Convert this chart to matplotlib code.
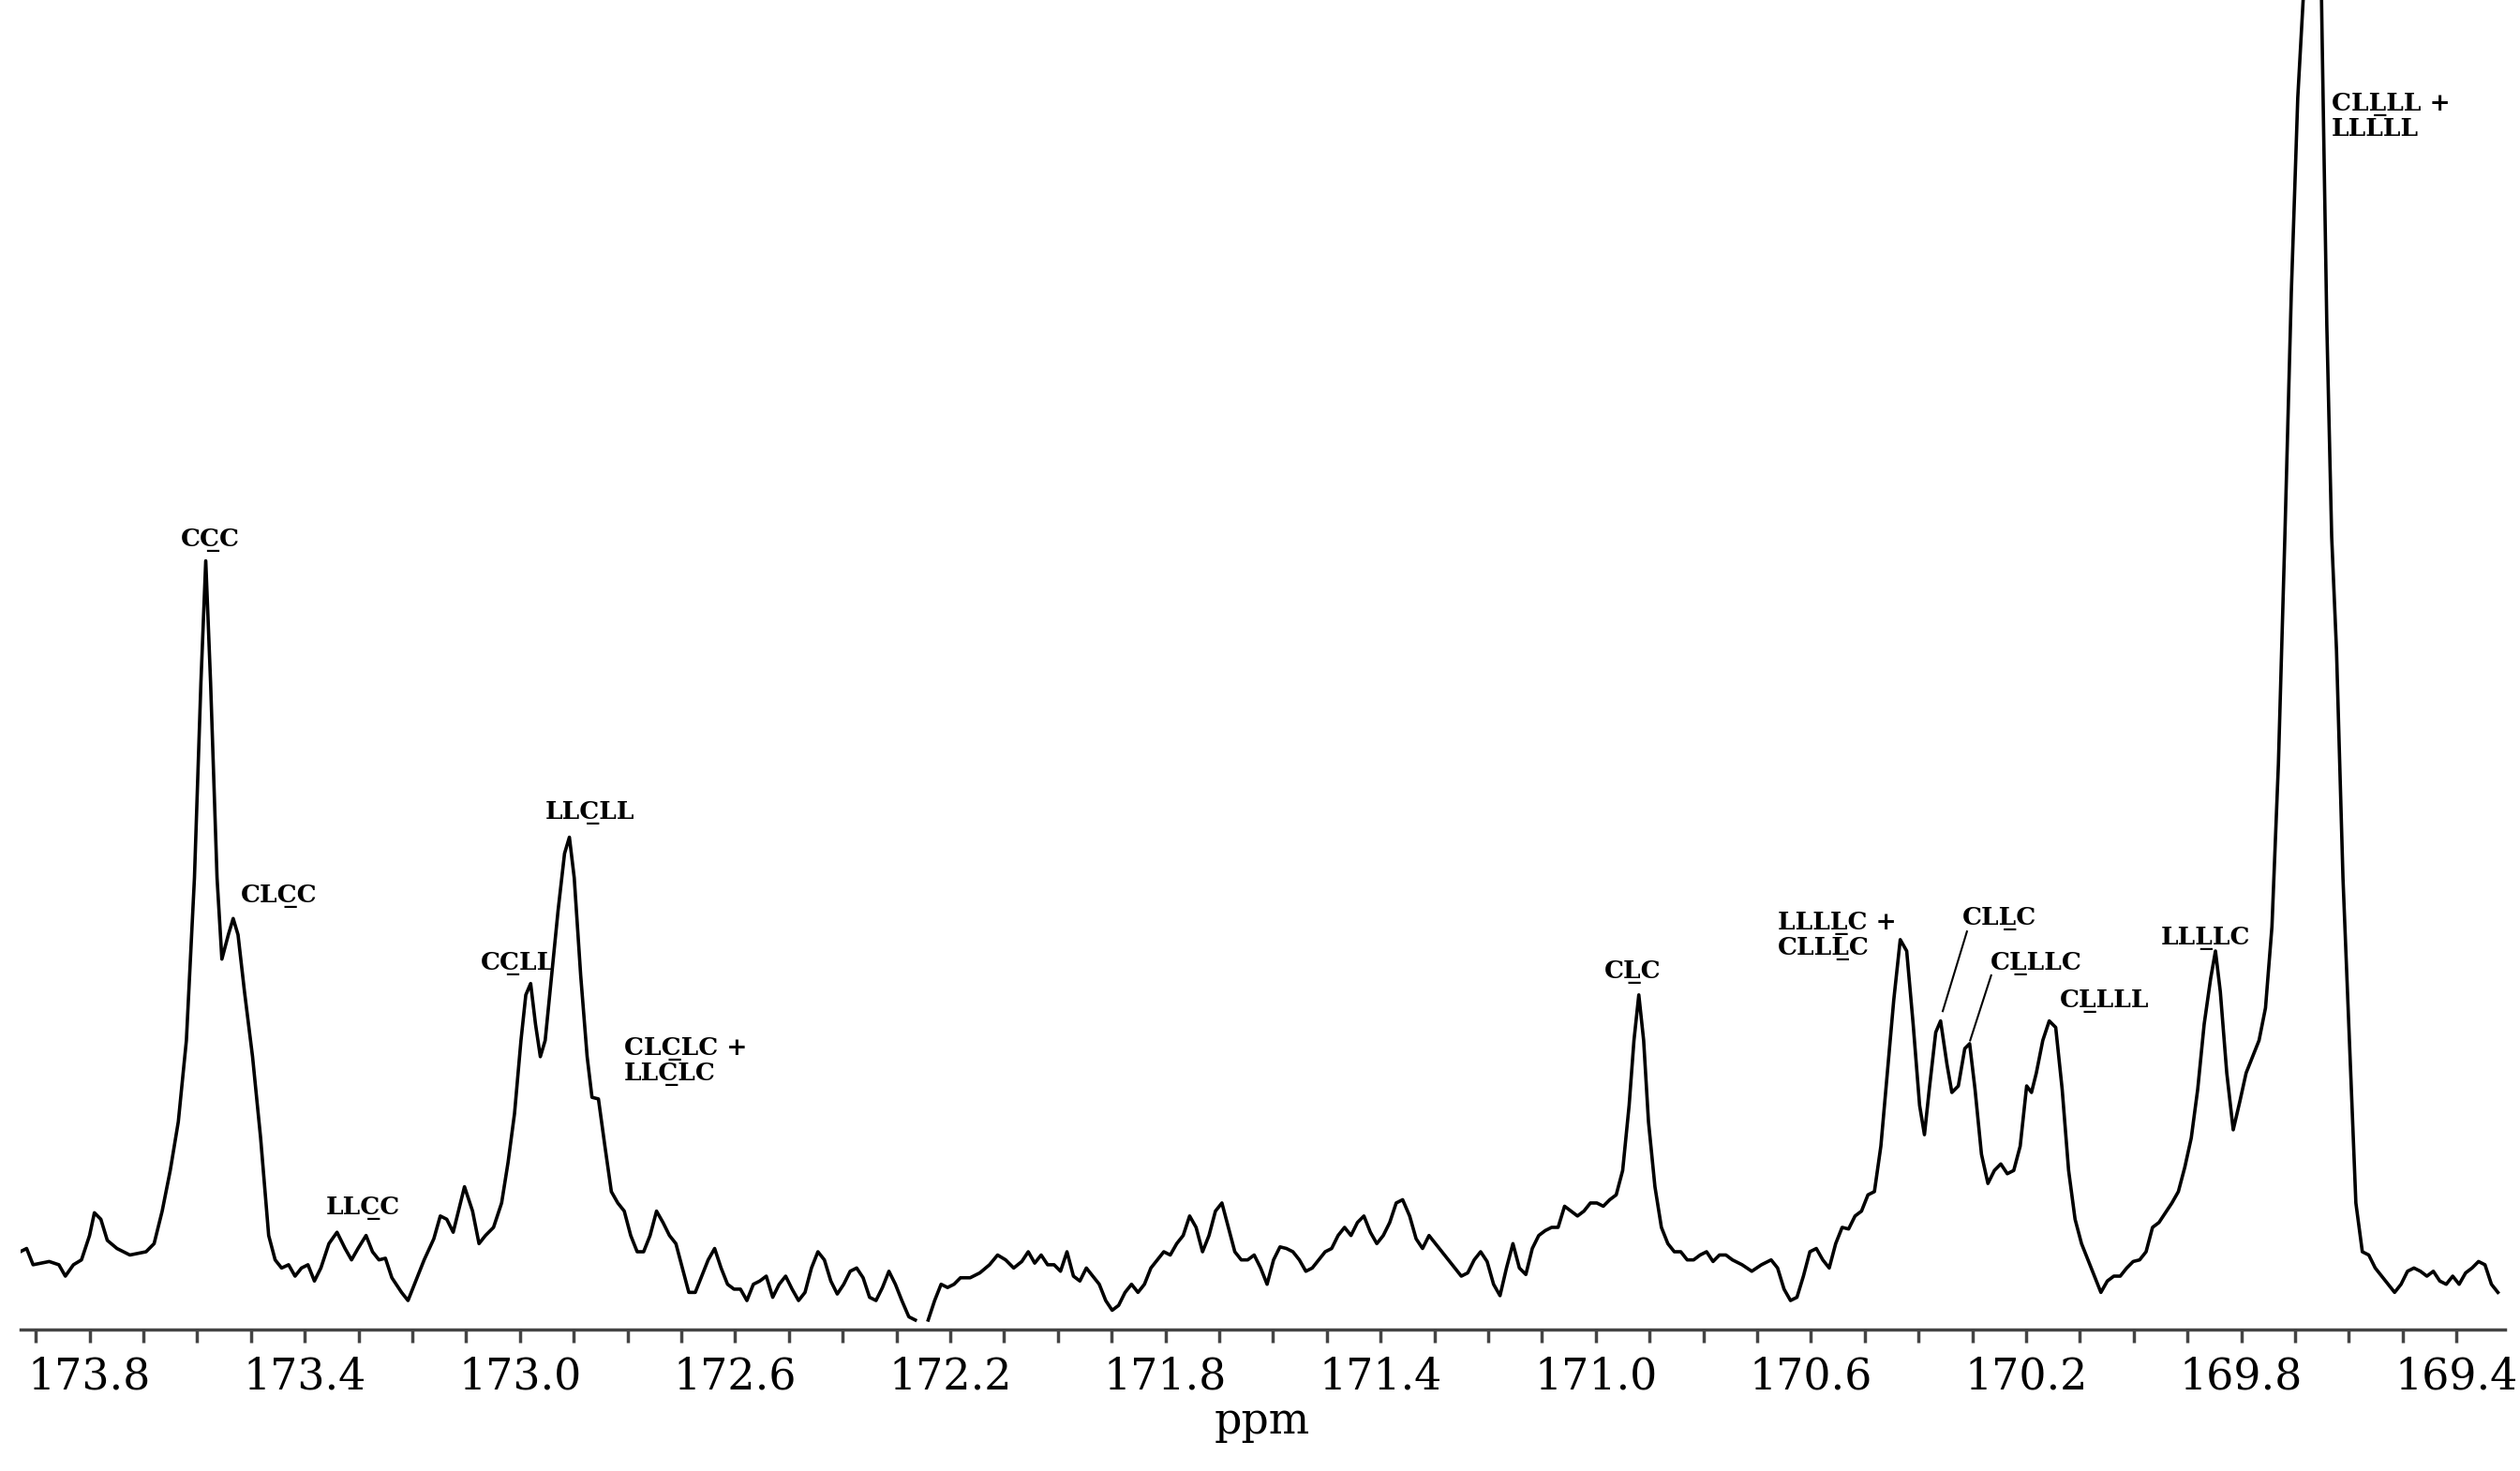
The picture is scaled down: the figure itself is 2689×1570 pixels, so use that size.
import numpy as np
import matplotlib
matplotlib.use("Agg")
import matplotlib.pyplot as plt

# 13C NMR carbonyl region (ppm, arbitrary intensity)
ppm_a = [173.929, 173.917, 173.905, 173.875, 173.857, 173.845, 173.830, 173.815, 173.800, 173.791,
         173.779, 173.767, 173.749, 173.725, 173.695, 173.680, 173.665, 173.650, 173.635, 173.620,
         173.605, 173.593, 173.584, 173.575, 173.563, 173.554, 173.542, 173.533, 173.524, 173.512,
         173.497, 173.482, 173.467, 173.455, 173.443, 173.430, 173.418, 173.406, 173.394, 173.382,
         173.370, 173.355, 173.340, 173.325, 173.313, 173.301, 173.286, 173.274, 173.262, 173.250,
         173.238, 173.220, 173.208, 173.196, 173.178, 173.160, 173.148, 173.136, 173.124, 173.115,
         173.103, 173.088, 173.076, 173.064, 173.049, 173.034, 173.022, 173.010, 172.998, 172.989,
         172.980, 172.971, 172.962, 172.953, 172.941, 172.929, 172.917, 172.908, 172.899, 172.887,
         172.875, 172.866, 172.854, 172.842, 172.830, 172.818, 172.806, 172.794, 172.782, 172.770,
         172.758, 172.746, 172.734, 172.722, 172.710, 172.698, 172.686, 172.674, 172.662, 172.650,
         172.638, 172.626, 172.614, 172.602, 172.590, 172.578, 172.566, 172.554, 172.542, 172.530,
         172.518, 172.506, 172.494, 172.482, 172.470, 172.458, 172.446, 172.434, 172.422, 172.410,
         172.398, 172.386, 172.374, 172.362, 172.350, 172.338, 172.326, 172.314, 172.302, 172.290,
         172.277, 172.265]
int_a = [48, 50, 40, 42, 40, 33, 40, 43, 58, 72,
         68, 55, 50, 46, 48, 53, 73, 98, 128, 178,
         278, 398, 473, 398, 278, 228, 243, 253, 243, 208,
         168, 118, 58, 43, 38, 40, 33, 38, 40, 30,
         38, 53, 60, 50, 43, 50, 58, 48, 43, 44,
         32, 23, 18, 28, 43, 56, 70, 68, 60, 72,
         88, 73, 53, 58, 63, 78, 103, 133, 178, 206,
         213, 188, 168, 178, 218, 258, 293, 303, 278, 218,
         168, 143, 142, 113, 85, 78, 73, 58, 48, 48,
         58, 73, 66, 58, 53, 38, 23, 23, 33, 43,
         50, 38, 28, 25, 25, 18, 28, 30, 33, 20,
         28, 33, 25, 18, 23, 38, 48, 43, 30, 22,
         28, 36, 38, 32, 20, 18, 26, 36, 28, 18,
         8, 6]

ppm_b = [172.241, 172.229, 172.217, 172.205, 172.193, 172.181, 172.163, 172.145, 172.127, 172.112,
         172.097, 172.082, 172.067, 172.055, 172.043, 172.031, 172.019, 172.007, 171.995, 171.983,
         171.971, 171.959, 171.947, 171.935, 171.923, 171.911, 171.899, 171.887, 171.875, 171.863,
         171.851, 171.839, 171.827, 171.815, 171.803, 171.791, 171.779, 171.767, 171.755, 171.743,
         171.731, 171.719, 171.707, 171.695, 171.683, 171.671, 171.659, 171.647, 171.635, 171.623,
         171.611, 171.599, 171.587, 171.575, 171.563, 171.551, 171.539, 171.527, 171.515, 171.503,
         171.491, 171.479, 171.467, 171.455, 171.443, 171.431, 171.419, 171.407, 171.395, 171.383,
         171.371, 171.359, 171.346, 171.334, 171.322, 171.310, 171.298, 171.286, 171.274, 171.262,
         171.250, 171.238, 171.226, 171.214, 171.202, 171.190, 171.178, 171.166, 171.154, 171.142,
         171.130, 171.118, 171.106, 171.094, 171.082, 171.070, 171.058, 171.046, 171.034, 171.022,
         171.010, 170.998, 170.986, 170.974, 170.962, 170.950, 170.938, 170.929, 170.920, 170.911,
         170.902, 170.890, 170.878, 170.866, 170.854, 170.842, 170.830, 170.818, 170.806, 170.794,
         170.782, 170.770, 170.758, 170.746, 170.728, 170.710, 170.692, 170.674, 170.662, 170.650,
         170.638, 170.626, 170.614, 170.602, 170.590, 170.578, 170.566, 170.554, 170.542, 170.530,
         170.518, 170.506, 170.494, 170.482, 170.470, 170.458, 170.446, 170.434, 170.422, 170.410,
         170.398, 170.389, 170.380, 170.368, 170.359, 170.347, 170.338, 170.326, 170.314, 170.305,
         170.295, 170.283, 170.271, 170.259, 170.247, 170.235, 170.223, 170.211, 170.199, 170.190,
         170.181, 170.169, 170.157, 170.145, 170.133, 170.121, 170.109, 170.097, 170.085, 170.073,
         170.061, 170.049, 170.037, 170.025, 170.013, 170.001, 169.989, 169.977, 169.965, 169.953,
         169.941, 169.929, 169.917, 169.905, 169.893, 169.881, 169.869, 169.857, 169.848, 169.839,
         169.827, 169.815, 169.803, 169.791, 169.779, 169.767, 169.755, 169.743, 169.731, 169.719,
         169.707, 169.695, 169.683, 169.671, 169.659, 169.650, 169.641, 169.632, 169.623, 169.611,
         169.599, 169.587, 169.575, 169.563, 169.551, 169.539, 169.527, 169.515, 169.503, 169.491,
         169.479, 169.467, 169.455, 169.443, 169.431, 169.419, 169.407, 169.395, 169.383, 169.371,
         169.359, 169.347, 169.335, 169.323]
int_b = [6, 18, 28, 26, 28, 32, 32, 35, 40, 46,
         43, 38, 42, 48, 41, 46, 40, 40, 36, 48,
         33, 30, 38, 33, 28, 18, 12, 15, 23, 28,
         23, 28, 38, 43, 48, 46, 53, 58, 70, 63,
         48, 58, 73, 78, 63, 48, 43, 43, 46, 38,
         28, 43, 51, 50, 48, 43, 36, 38, 43, 48,
         50, 58, 63, 58, 66, 70, 60, 53, 58, 66,
         78, 80, 70, 56, 50, 58, 53, 48, 43, 38,
         33, 35, 43, 48, 42, 28, 21, 38, 53, 38,
         34, 50, 58, 61, 63, 63, 76, 73, 70, 73,
         78, 78, 76, 80, 83, 98, 138, 178, 206, 178,
         128, 88, 63, 53, 48, 48, 43, 43, 46, 48,
         42, 46, 46, 43, 40, 36, 40, 43, 38, 25,
         18, 20, 33, 48, 50, 43, 38, 53, 63, 62,
         70, 73, 83, 85, 113, 158, 203, 240, 233, 188,
         138, 120, 148, 183, 190, 163, 146, 150, 173, 176,
         148, 108, 90, 98, 102, 96, 98, 113, 150, 146,
         158, 178, 190, 186, 148, 98, 68, 53, 43, 33,
         23, 30, 33, 33, 38, 42, 43, 48, 63, 66,
         72, 78, 85, 100, 118, 148, 188, 216, 233, 208,
         158, 123, 140, 158, 168, 178, 198, 248, 348, 488,
         638, 758, 830, 1150, 1000, 800, 618, 488, 418, 278,
         178, 78, 48, 46, 38, 33, 28, 23, 28, 36,
         38, 36, 33, 36, 30, 28, 33, 28, 35, 38,
         42, 40, 28, 23]

# annotation labels: (text, underlined char index per line, ppm, intensity, alignment)
label_text = ["CCC", "CLCC", "LLCC", "LLCLL", "CCLL", "CLCLC +\nLLCLC", "CLC",
              "LLLLC +\nCLLLC", "CLLC", "CLLLC", "CLLLL", "LLLLC", "CLLLL +\nLLLLL"]
label_ul = [[1], [2], [2], [2], [1], [2, 2], [1], [3, 3], [2], [1], [1], [2], [2, None]]
label_ppm = [173.575, 173.448, 173.292, 172.869, 173.004, 172.806, 170.932,
             170.662, 170.250, 170.181, 170.055, 169.866, 169.632]
label_int = [486, 267, 75, 318, 225, 165, 220, 242, 253, 225, 202, 241, 746]
label_ha = ["center", "center", "center", "center", "center", "left", "center",
            "left", "center", "center", "center", "center", "left"]

# leader lines for CLLC and CLLLC
lead_ppm = [[170.310, 170.355], [170.265, 170.304]]
lead_int = [[245, 196], [218, 178]]


def underline(txt, idx):
    lines = txt.split("\n")
    out = []
    for line, i in zip(lines, idx):
        if i is None:
            out.append(line)
        else:
            out.append(line[:i + 1] + "\u0332" + line[i + 1:])
    return "\n".join(out)


plt.rcParams["font.family"] = ["DejaVu Serif"]

fig = plt.figure(figsize=(26.89, 15.70), dpi=100)
ax = fig.add_axes([0.008, 0.096, 0.986, 0.904])

ax.plot(ppm_a, int_a, color="black", lw=2.6)
ax.plot(ppm_b, int_b, color="black", lw=2.6)

for t, u, x, y, ha in zip(label_text, label_ul, label_ppm, label_int, label_ha):
    ax.text(x, y, underline(t, u), ha=ha, va="center", fontsize=19,
            fontweight="bold", linespacing=1.05)

for lx, ly in zip(lead_ppm, lead_int):
    ax.plot(lx, ly, color="black", lw=1.5)

ax.set_xlim(173.929, 169.310)
ax.set_ylim(0, 818)
for s in ["top", "left", "right"]:
    ax.spines[s].set_visible(False)
ax.spines["bottom"].set_linewidth(2.5)
ax.spines["bottom"].set_color("#444444")
ax.set_yticks([])
ax.set_xticks(np.arange(173.8, 169.3, -0.4))
ax.set_xticks(np.arange(173.9, 169.3, -0.1), minor=True)
ax.xaxis.set_major_formatter(matplotlib.ticker.FormatStrFormatter("%.1f"))
ax.tick_params(axis="x", which="both", direction="out", length=10, width=2.5,
               color="#444444", labelsize=33, pad=10)
ax.set_xlabel("ppm", fontsize=33, labelpad=2)

fig.savefig("out.png", dpi=100)
